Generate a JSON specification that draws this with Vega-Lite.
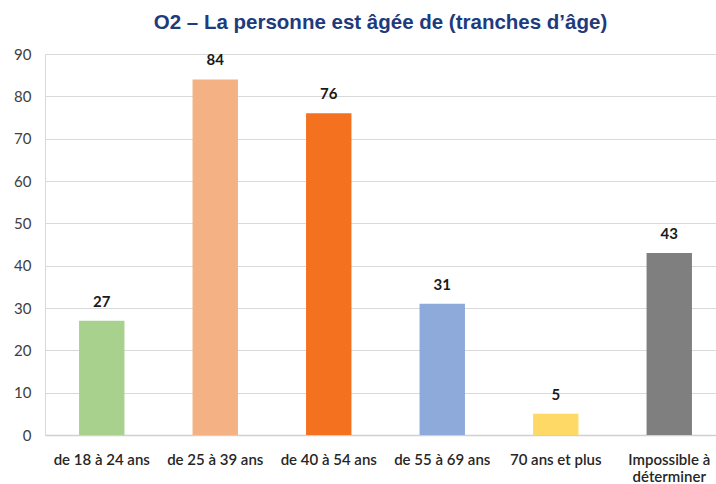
{
  "$schema": "https://vega.github.io/schema/vega-lite/v6.json",
  "autosize": "none",
  "width": 671,
  "height": 381,
  "padding": {"left": 45, "top": 54, "right": 0, "bottom": 49},
  "background": "white",
  "config": {"view": {"stroke": null}},
  "title": {
    "text": "O2 – La personne est âgée de (tranches d’âge)",
    "font": "Liberation Sans",
    "fontSize": 20.5,
    "fontWeight": "bold",
    "color": "#203a7c",
    "anchor": "middle",
    "offset": 14
  },
  "data": {
    "values": [
      {"cat": "de 18 à 24 ans", "n": 27, "col": "#a9d18e"},
      {"cat": "de 25 à 39 ans", "n": 84, "col": "#f4b183"},
      {"cat": "de 40 à 54 ans", "n": 76, "col": "#f47120"},
      {"cat": "de 55 à 69 ans", "n": 31, "col": "#8eaadb"},
      {"cat": "70 ans et plus", "n": 5, "col": "#ffd966"},
      {"cat": "Impossible à déterminer", "n": 43, "col": "#7f7f7f"}
    ]
  },
  "encoding": {
    "x": {
      "field": "cat",
      "type": "nominal",
      "sort": null,
      "scale": {"range": [0, 681], "paddingInner": 0.6, "paddingOuter": 0.3},
      "axis": {
        "title": null,
        "labelAngle": 0,
        "labelFont": "Lato",
        "labelFontSize": 15,
        "labelFontWeight": 600,
        "labelColor": "#262626",
        "labelPadding": 17,
        "labelLimit": 200,
        "labelLineHeight": 17,
        "ticks": false,
        "domainColor": "#d0d0d0",
        "domainWidth": 1.5,
        "labelExpr": "datum.label == 'Impossible à déterminer' ? ['Impossible à', 'déterminer'] : datum.label"
      }
    },
    "y": {
      "field": "n",
      "type": "quantitative",
      "scale": {"domain": [0, 90]},
      "axis": {
        "title": null,
        "values": [0, 10, 20, 30, 40, 50, 60, 70, 80, 90],
        "labelFont": "Lato",
        "labelFontSize": 15,
        "labelColor": "#404040",
        "labelPadding": 14,
        "ticks": false,
        "domainColor": "#d9d9d9",
        "gridColor": "#d9d9d9",
        "gridWidth": 1.2
      }
    }
  },
  "layer": [
    {
      "mark": {"type": "bar"},
      "encoding": {"color": {"field": "col", "type": "nominal", "scale": null}}
    },
    {
      "mark": {"type": "text", "dy": -11, "font": "Lato", "fontSize": 15, "fontWeight": "bold", "color": "#1a1a1a", "baseline": "bottom"},
      "encoding": {"text": {"field": "n", "type": "quantitative"}}
    }
  ]
}
